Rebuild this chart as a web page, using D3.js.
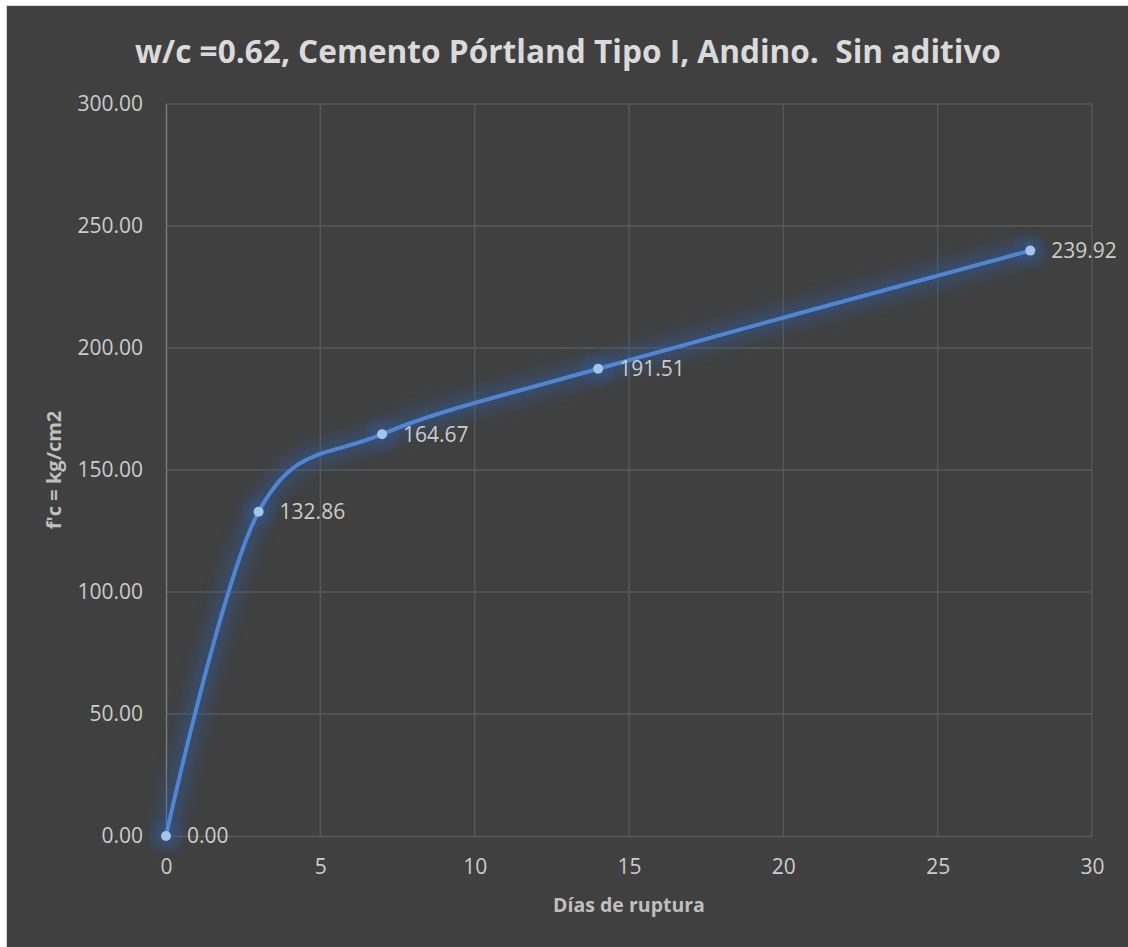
<!DOCTYPE html>
<html>
<head>
<meta charset="utf-8">
<script src="https://cdn.jsdelivr.net/npm/d3@7"></script>
<style>
  html, body { margin: 0; padding: 0; background: #ffffff; }
  svg { display: block; }
  text { font-family: "Open Sans", "Noto Sans", sans-serif; white-space: pre; }
</style>
</head>
<body>
<svg id="chart" width="1128" height="947"></svg>
<script>
// Compressive strength by curing age
const chartTitle = "w/c =0.62, Cemento Pórtland Tipo I, Andino.  Sin aditivo";
const xTitle = "Días de ruptura";
const yTitle = "f'c = kg/cm2";
const days = [0, 3, 7, 14, 28];
const strength = [0.00, 132.86, 164.67, 191.51, 239.92];
const xTicks = [0, 5, 10, 15, 20, 25, 30];
const yTicks = [0, 50, 100, 150, 200, 250, 300];

const W = 1128, H = 947;
const svg = d3.select("#chart");

// chart panel with a thin light frame
svg.append("rect").attr("x", 0).attr("y", 0).attr("width", W).attr("height", H).attr("fill", "#ffffff");
svg.append("rect").attr("x", 6).attr("y", 5).attr("width", W - 6).attr("height", H - 5).attr("fill", "#d9d9d9");
svg.append("rect").attr("x", 7).attr("y", 6).attr("width", W - 7).attr("height", H - 6).attr("fill", "#404040");

const plot = { left: 166, right: 1092, top: 104, bottom: 836 };

const x = d3.scaleLinear().domain([0, 30]).range([plot.left, plot.right]);
const y = d3.scaleLinear().domain([0, 300]).range([plot.bottom, plot.top]);

const defs = svg.append("defs");
const glow = defs.append("filter").attr("id", "glow")
  .attr("x", "-20%").attr("y", "-20%").attr("width", "140%").attr("height", "140%");
glow.append("feGaussianBlur").attr("stdDeviation", 8);

// gridlines
const grid = svg.append("g");
grid.selectAll("line.h").data(yTicks.filter(d => d > 0)).join("line")
  .attr("x1", plot.left).attr("x2", plot.right)
  .attr("y1", d => y(d)).attr("y2", d => y(d))
  .attr("stroke", "#595959").attr("stroke-width", 1.3);
grid.selectAll("line.v").data(xTicks.filter(d => d > 0)).join("line")
  .attr("x1", d => x(d)).attr("x2", d => x(d))
  .attr("y1", plot.top).attr("y2", plot.bottom)
  .attr("stroke", "#595959").attr("stroke-width", 1.3);

// axes
const xAxis = svg.append("g").attr("transform", `translate(0,${plot.bottom})`)
  .call(d3.axisBottom(x).tickValues(xTicks).tickSize(0).tickPadding(23).tickFormat(d3.format("d")));
xAxis.select(".domain").attr("stroke", "#595959").attr("stroke-width", 1.3);
xAxis.selectAll("text").attr("fill", "#cccccc").attr("font-size", 21)
  .attr("font-family", "'Open Sans', sans-serif");

const yAxis = svg.append("g").attr("transform", `translate(${plot.left},0)`)
  .call(d3.axisLeft(y).tickValues(yTicks).tickSize(0).tickPadding(23).tickFormat(d3.format(".2f")));
yAxis.select(".domain").attr("stroke", "#808080").attr("stroke-width", 1.3);
yAxis.selectAll("text").attr("fill", "#cccccc").attr("font-size", 21)
  .attr("font-family", "'Open Sans', sans-serif");

// series
const pts = days.map((d, i) => [d, strength[i]]);
const line = d3.line().x(d => x(d[0])).y(d => y(d[1])).curve(d3.curveCardinal.tension(0));

svg.append("path").datum(pts).attr("d", line)
  .attr("fill", "none").attr("stroke", "#2f5fae").attr("stroke-opacity", 0.45)
  .attr("stroke-width", 20).attr("stroke-linecap", "round").attr("filter", "url(#glow)");
svg.append("g").selectAll("circle").data(pts).join("circle")
  .attr("cx", d => x(d[0])).attr("cy", d => y(d[1])).attr("r", 12)
  .attr("fill", "#2f5fae").attr("fill-opacity", 0.45).attr("filter", "url(#glow)");

svg.append("path").datum(pts).attr("d", line)
  .attr("fill", "none").attr("stroke", "#4f85d3").attr("stroke-width", 4)
  .attr("stroke-linecap", "round");

svg.append("g").selectAll("circle").data(pts).join("circle")
  .attr("cx", d => x(d[0])).attr("cy", d => y(d[1])).attr("r", 5)
  .attr("fill", "#a6c3ea");

// value labels
svg.append("g").selectAll("text").data(pts).join("text")
  .attr("x", d => x(d[0]) + 21).attr("y", d => y(d[1]))
  .attr("dy", "0.35em")
  .attr("fill", "#cccccc").attr("font-size", 21)
  .text(d => d3.format(".2f")(d[1]));

// titles
svg.append("text").attr("x", 568).attr("y", 63).attr("text-anchor", "middle")
  .attr("xml:space", "preserve")
  .attr("fill", "#dadada").attr("font-size", 31.6).attr("font-weight", "bold")
  .text(chartTitle);

svg.append("text").attr("x", (plot.left + plot.right) / 2).attr("y", 912)
  .attr("text-anchor", "middle").attr("fill", "#bfbfbf")
  .attr("font-size", 19.5).attr("font-weight", "bold").text(xTitle);

svg.append("text").attr("transform", `translate(61,${(plot.top + plot.bottom) / 2}) rotate(-90)`)
  .attr("text-anchor", "middle").attr("fill", "#bfbfbf")
  .attr("font-size", 20).attr("font-weight", "bold").text(yTitle);
</script>
</body>
</html>
